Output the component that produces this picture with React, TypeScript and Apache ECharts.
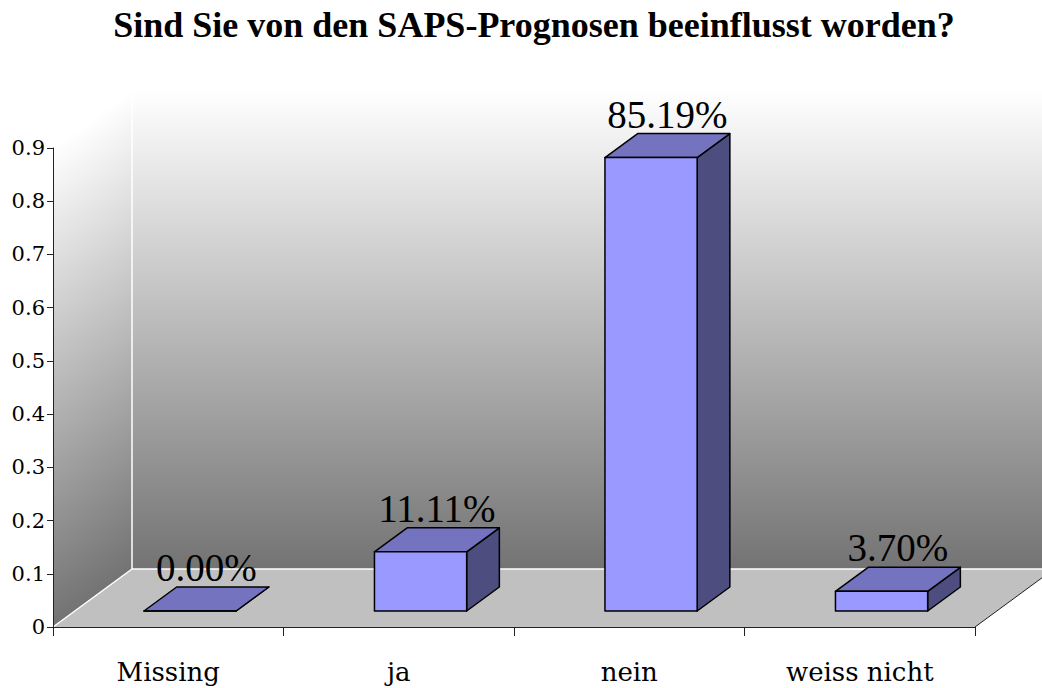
import React, { useEffect, useRef } from "react";
import * as echarts from "echarts";

const title = "Sind Sie von den SAPS-Prognosen beeinflusst worden?";
const categories = ["Missing", "ja", "nein", "weiss nicht"];
const values = [0, 0.1111, 0.8519, 0.037];
const yMin = 0;
const yMax = 0.9;
const yInterval = 0.1;

// 3D projection constants (pixels)
const DX = 79;
const DY = 58;
const BAR_FRONT = 0.276;
const BAR_BACK = 0.69;
const BAR_HALF = 0.2;

const FRONT = "#9999ff";
const TOPC = "#7373bf";
const SIDE = "#4d4d80";

export default function App() {
  const ref = useRef<HTMLDivElement>(null);
  useEffect(() => {
    if (!ref.current) return;
    const chart = echarts.init(ref.current, undefined, { renderer: "svg" });

    const wallsRender = (params: any, api: any) => {
      const cs = params.coordSys;
      const x = cs.x, y = cs.y, w = cs.width, h = cs.height;
      const yb = y + h;
      const backGrad = new echarts.graphic.LinearGradient(0, 0, 0, 1, [
        { offset: 0, color: "#ffffff" },
        { offset: 1, color: "#737373" },
      ]);
      const n = Math.sqrt(DX * DX + DY * DY);
      const dist = (h * DX) / n;
      const ex = x + (dist * DY) / n;
      const ey = y + (dist * DX) / n;
      const leftGrad = new echarts.graphic.LinearGradient(
        x, y, ex, ey,
        [
          { offset: 0, color: "#ffffff" },
          { offset: 1, color: "#737373" },
        ],
        true
      );
      return {
        type: "group",
        children: [
          {
            type: "polygon",
            shape: { points: [[x + DX, y - DY], [x + w + DX, y - DY], [x + w + DX, yb - DY], [x + DX, yb - DY]] },
            style: { fill: backGrad },
          },
          {
            type: "polygon",
            shape: { points: [[x, y], [x + DX, y - DY], [x + DX, yb - DY], [x, yb]] },
            style: { fill: leftGrad },
          },
          {
            type: "polygon",
            shape: { points: [[x, yb], [x + w, yb], [x + w + DX, yb - DY], [x + DX, yb - DY]] },
            style: { fill: "#c0c0c0" },
          },
          { type: "line", shape: { x1: x + DX, y1: y - DY, x2: x + DX, y2: yb - DY }, style: { stroke: "#ffffff", lineWidth: 1.5 } },
          { type: "line", shape: { x1: x + DX, y1: yb - DY, x2: x + w + DX, y2: yb - DY }, style: { stroke: "#ffffff", lineWidth: 1.5 } },
          { type: "line", shape: { x1: x, y1: yb, x2: x + DX, y2: yb - DY }, style: { stroke: "#ffffff", lineWidth: 1.5 } },
          { type: "line", shape: { x1: x + w, y1: yb, x2: x + w + DX, y2: yb - DY }, style: { stroke: "#222222", lineWidth: 1 } },
        ],
      };
    };

    const barsRender = (params: any, api: any) => {
      const idx = api.value(0);
      const v = api.value(1);
      const base = api.coord([idx, 0]);
      const top = api.coord([idx, v]);
      const bw = api.size([1, 0])[0];
      const half = bw * BAR_HALF;
      const fx = BAR_FRONT * DX, fy = BAR_FRONT * DY;
      const ddx = (BAR_BACK - BAR_FRONT) * DX, ddy = (BAR_BACK - BAR_FRONT) * DY;
      const x0 = base[0] - half + fx, x1 = base[0] + half + fx;
      const yb = base[1] - fy, yt = top[1] - fy;
      const stroke = { stroke: "#000000", lineWidth: 1.5, lineJoin: "round" };
      return {
        type: "group",
        children: [
          {
            type: "polygon",
            shape: { points: [[x1, yb], [x1, yt], [x1 + ddx, yt - ddy], [x1 + ddx, yb - ddy]] },
            style: { fill: SIDE, ...stroke },
          },
          {
            type: "polygon",
            shape: { points: [[x0, yt], [x1, yt], [x1 + ddx, yt - ddy], [x0 + ddx, yt - ddy]] },
            style: { fill: TOPC, ...stroke },
          },
          {
            type: "rect",
            shape: { x: x0, y: yt, width: x1 - x0, height: yb - yt },
            style: { fill: FRONT, ...stroke },
          },
          {
            type: "text",
            x: (x0 + x1) / 2 + ddx / 2,
            y: yt - ddy,
            style: {
              text: (v * 100).toFixed(2) + "%",
              fill: "#000000",
              font: '39px "Liberation Serif", "Times New Roman", serif',
              align: "center",
              verticalAlign: "bottom",
            },
          },
        ],
      };
    };

    chart.setOption({
      animation: false,
      backgroundColor: "#ffffff",
      graphic: [
        {
          type: "text",
          x: 534,
          y: 25,
          style: {
            text: title,
            fill: "#000000",
            font: 'bold 36px "Liberation Serif", "Times New Roman", serif',
            align: "center",
            verticalAlign: "middle",
          },
        },
      ],
      grid: { left: 53, right: 67, top: 148, bottom: 61, containLabel: false },
      xAxis: {
        type: "category",
        data: categories,
        z: 10,
        axisLine: { show: true, lineStyle: { color: "#222222", width: 1 } },
        axisTick: { show: true, length: 9, lineStyle: { color: "#222222" } },
        axisLabel: { color: "#000000", fontFamily: '"DejaVu Serif", serif', fontSize: 26, margin: 32 },
        splitLine: { show: false },
      },
      yAxis: {
        type: "value",
        min: yMin,
        max: yMax,
        interval: yInterval,
        z: 10,
        axisLine: { show: true, lineStyle: { color: "#222222", width: 1 } },
        axisTick: { show: true, length: 6, lineStyle: { color: "#222222" } },
        axisLabel: { color: "#000000", fontFamily: '"DejaVu Serif", serif', fontSize: 21, margin: 8 },
        splitLine: { show: false },
      },
      series: [
        {
          type: "custom",
          z: 1,
          silent: true,
          data: [[0, 0]],
          renderItem: wallsRender,
        },
        {
          type: "custom",
          z: 3,
          data: values.map((v, i) => [i, v]),
          encode: { x: 0, y: 1 },
          renderItem: barsRender,
        },
      ],
    });
    return () => chart.dispose();
  }, []);
  return <div ref={ref} style={{ position: "absolute", left: 0, top: 0, width: 1042, height: 688 }} />;
}
